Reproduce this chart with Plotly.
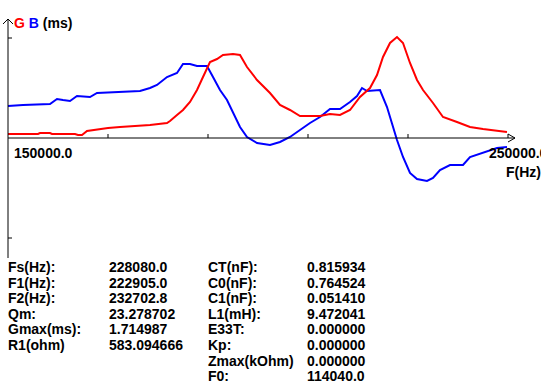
import plotly.graph_objects as go

# ---- data (frequency in Hz, G and B in ms) ----
g_freq = [150000, 156000, 156400, 158400, 158800, 163400, 164000, 164800, 165800, 168400,
          170000, 172400, 176400, 178400, 181800, 182400, 183800, 185000, 186400, 187800,
          189000, 190400, 191800, 193000, 195000, 196400, 197800, 199800, 202400, 204400,
          206400, 208400, 212400, 214400, 216400, 218400, 220400, 222400, 223800, 225000,
          226400, 227800, 229000, 230400, 231800, 233000, 235000, 237000, 239800, 242400,
          245000, 249800]
g_vals = [0.068, 0.068, 0.085, 0.085, 0.068, 0.068, 0.051, 0.051, 0.119, 0.153,
          0.170, 0.187, 0.204, 0.221, 0.255, 0.289, 0.391, 0.476, 0.612, 0.816,
          1.037, 1.292, 1.343, 1.411, 1.428, 1.411, 1.207, 0.986, 0.765, 0.561,
          0.476, 0.374, 0.374, 0.408, 0.391, 0.476, 0.697, 0.850, 1.071, 1.377,
          1.615, 1.717, 1.615, 1.275, 0.986, 0.816, 0.595, 0.357, 0.272, 0.187,
          0.153, 0.102]

b_freq = [150000, 153000, 158400, 159800, 161000, 162400, 163800, 166400, 167800, 171800,
          173800, 176400, 178400, 179800, 181800, 183800, 185000, 186400, 187800, 189800,
          191000, 192400, 193800, 195000, 196400, 197800, 199800, 202400, 204400, 206400,
          208400, 210400, 212400, 214400, 216400, 218400, 219800, 220800, 221800, 224400,
          225800, 227000, 227800, 229000, 230400, 231800, 233800, 235000, 236400, 238400,
          241000, 242400, 245000, 247800, 249800]
b_vals = [0.544, 0.561, 0.578, 0.663, 0.646, 0.629, 0.714, 0.697, 0.765, 0.782,
          0.799, 0.799, 0.850, 0.901, 1.037, 1.105, 1.258, 1.258, 1.224, 1.224,
          1.037, 0.816, 0.646, 0.425, 0.187, 0.017, -0.085, -0.119, -0.068, 0.017,
          0.136, 0.255, 0.357, 0.493, 0.493, 0.612, 0.714, 0.850, 0.799, 0.816,
          0.527, 0.187, -0.034, -0.323, -0.595, -0.697, -0.731, -0.680, -0.544, -0.459,
          -0.459, -0.323, -0.255, -0.170, -0.153]

x_ticks = [150000, 170000, 190000, 210000, 230000, 250000]
x_tick_labels = ["150000.0", "250000.0"]
y_ticks = [1.7, -1.7]

left_labels = ["Fs(Hz):", "F1(Hz):", "F2(Hz):", "Qm:", "Gmax(ms):", "R1(ohm)"]
left_values = ["228080.0", "222905.0", "232702.8", "23.278702", "1.714987", "583.094666"]
right_labels = ["CT(nF):", "C0(nF):", "C1(nF):", "L1(mH):", "E33T:", "Kp:", "Zmax(kOhm)", "F0:"]
right_values = ["0.815934", "0.764524", "0.051410", "9.472041", "0.000000", "0.000000",
                "0.000000", "114040.0"]

# ---- layout geometry ----
W, H = 541, 384
X0 = 148400.0
DX = 200.0          # Hz per pixel
V0 = 138 * 0.017    # value at top pixel
DV = 0.017          # ms per pixel


def fx(px):
    return X0 + px * DX


def fy(py):
    return V0 - py * DV


FONT = "Liberation Sans"
RED = "#ff0000"
BLUE = "#0000ff"

fig = go.Figure()
fig.add_trace(go.Scatter(x=b_freq, y=b_vals, mode="lines",
                         line=dict(color=BLUE, width=2), hoverinfo="skip"))
fig.add_trace(go.Scatter(x=g_freq, y=g_vals, mode="lines",
                         line=dict(color=RED, width=2), hoverinfo="skip"))

shapes = []
ax = dict(type="line", xref="x", yref="y", line=dict(color="black", width=1))
# x axis
shapes.append(dict(ax, x0=x_ticks[0], x1=fx(515), y0=0, y1=0))
shapes.append(dict(ax, x0=fx(508), x1=fx(515), y0=fy(134), y1=0))
shapes.append(dict(ax, x0=fx(508), x1=fx(515), y0=fy(142), y1=0))
for t in x_ticks[1:]:
    shapes.append(dict(ax, x0=t, x1=t, y0=0, y1=4 * DV))
# y axis
shapes.append(dict(ax, x0=x_ticks[0], x1=x_ticks[0], y0=fy(19), y1=fy(258)))
shapes.append(dict(ax, x0=fx(3), x1=x_ticks[0], y0=fy(24), y1=fy(19)))
shapes.append(dict(ax, x0=fx(13), x1=x_ticks[0], y0=fy(24), y1=fy(19)))
for t in y_ticks:
    shapes.append(dict(ax, x0=x_ticks[0], x1=x_ticks[0] + 4 * DX, y0=t, y1=t))

ann = []


def text(px, py, s, anchor="left", color="black"):
    ann.append(dict(x=px / W, y=1 - py / H, xref="paper", yref="paper", text=s,
                    showarrow=False, xanchor=anchor, yanchor="middle",
                    font=dict(family=FONT, size=14, color=color)))


text(12, 23, '<b><span style="color:%s">G</span> <span style="color:%s">B</span> (ms)</b>'
     % (RED, BLUE))
text(12, 153, "<b>%s</b>" % x_tick_labels[0])
text(487, 153, "<b>%s</b>" % x_tick_labels[1])
text(504, 172, "<b>F(Hz)</b>")

row0, dy = 267.0, 15.6
for i, (l, v) in enumerate(zip(left_labels, left_values)):
    text(6, row0 + i * dy, "<b>%s</b>" % l)
    text(107, row0 + i * dy, "<b>%s</b>" % v)
for i, (l, v) in enumerate(zip(right_labels, right_values)):
    text(206, row0 + i * dy, "<b>%s</b>" % l)
    text(305, row0 + i * dy, "<b>%s</b>" % v)

fig.update_layout(
    width=W, height=H, autosize=False,
    margin=dict(l=0, r=0, t=0, b=0, pad=0),
    paper_bgcolor="white", plot_bgcolor="white",
    showlegend=False,
    xaxis=dict(range=[fx(0), fx(W)], visible=False, fixedrange=True),
    yaxis=dict(range=[fy(H), fy(0)], visible=False, fixedrange=True),
    shapes=shapes, annotations=ann,
)

fig.write_html("out.html", config={"displayModeBar": False},
               post_script="document.body.style.margin='0';"
                           "document.body.style.overflow='hidden';")
